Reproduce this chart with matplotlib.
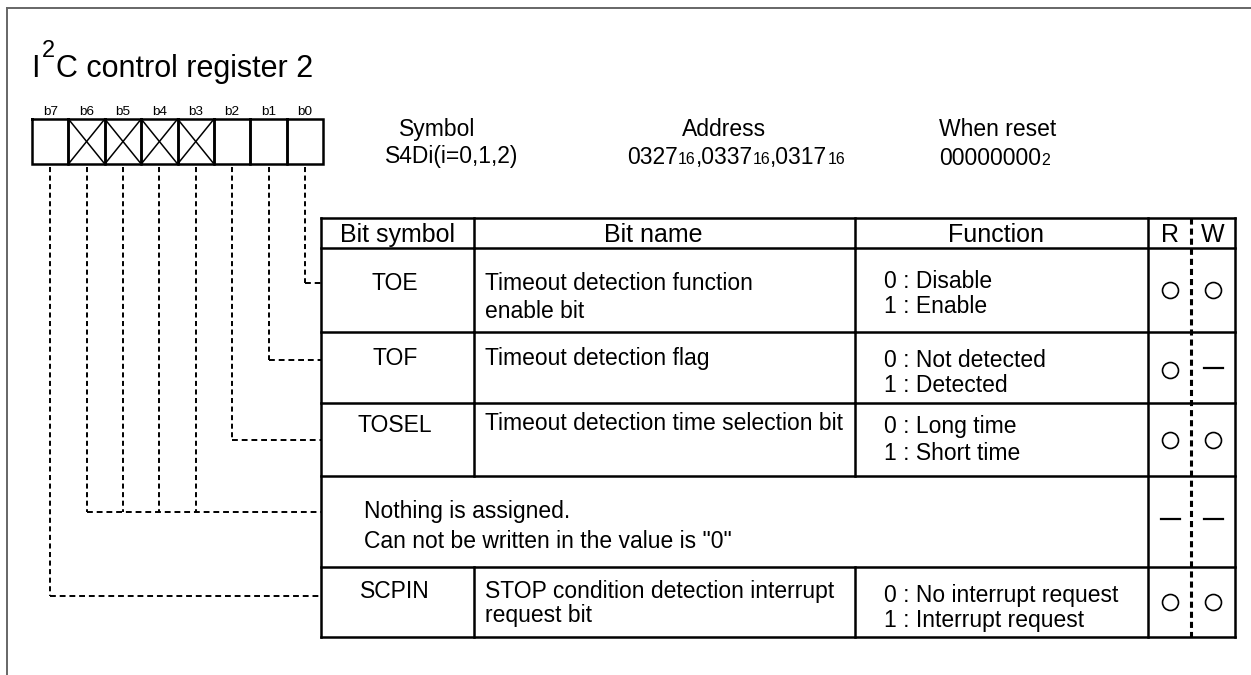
import matplotlib
matplotlib.use("Agg")
import matplotlib.pyplot as plt

plt.rcParams['font.family'] = ['Liberation Sans', 'DejaVu Sans']

# register content
title_main = "C control register 2"
bit_labels = ["b7", "b6", "b5", "b4", "b3", "b2", "b1", "b0"]
unused_bits = ["b6", "b5", "b4", "b3"]
symbol_head = "Symbol"
symbol_text = "S4Di(i=0,1,2)"
address_head = "Address"
address_parts = ["0327", "16", ",0337", "16", ",0317", "16"]
reset_head = "When reset"
reset_parts = ["00000000", "2"]

headers = ["Bit symbol", "Bit name", "Function", "R", "W"]
row_bits = [["b0"], ["b1"], ["b2"], ["b6", "b5", "b4", "b3"], ["b7"]]
row_symbols = ["TOE", "TOF", "TOSEL", "", "SCPIN"]
row_names = [["Timeout detection function", "enable bit"],
             ["Timeout detection flag"],
             ["Timeout detection time selection bit"],
             ["Nothing is assigned.", 'Can not be written in the value is "0"'],
             ["STOP condition detection interrupt", "request bit"]]
row_funcs = [["0 : Disable", "1 : Enable"],
             ["0 : Not detected", "1 : Detected"],
             ["0 : Long time", "1 : Short time"],
             [],
             ["0 : No interrupt request", "1 : Interrupt request"]]
row_read = ["o", "o", "o", "-", "o"]
row_write = ["o", "-", "o", "-", "o"]

# layout (pixels)
W, H = 1251, 675
fig = plt.figure(figsize=(W / 100, H / 100), dpi=100)
ax = fig.add_axes([0, 0, 1, 1])
ax.set_xlim(0, W)
ax.set_ylim(H, 0)
ax.axis("off")
r = fig.canvas.get_renderer()

BODY = 16.5
lw_tab = 1.8

# frame (top and left)
ax.plot([7, W], [8, 8], color="#666666", lw=1.4)
ax.plot([7, 7], [8, H], color="#666666", lw=1.4)

# title with superscript
t = ax.text(31, 77, "I", fontsize=22, va="baseline")
x = t.get_window_extent(r).x1 + 2
t = ax.text(x, 57, "2", fontsize=17, va="baseline")
x = t.get_window_extent(r).x1 + 1
ax.text(x, 77, title_main, fontsize=22, va="baseline")

# register boxes
bx0, bw, by0, by1 = 32, 36.4, 119, 164
bit_x = {}
for i, b in enumerate(bit_labels):
    x0 = bx0 + i * bw
    bit_x[b] = x0 + bw / 2
    ax.plot([x0, x0 + bw, x0 + bw, x0, x0], [by0, by0, by1, by1, by0],
            color="black", lw=lw_tab, solid_joinstyle="miter")
    ax.text(x0 + bw / 2, 115, b, fontsize=9.7, ha="center", va="baseline")
    if b in unused_bits:
        ax.plot([x0, x0 + bw], [by0, by1], color="black", lw=1.1)
        ax.plot([x0, x0 + bw], [by1, by0], color="black", lw=1.1)


def seq_text(x, y, parts, sizes):
    for s, sz in zip(parts, sizes):
        tt = ax.text(x, y, s, fontsize=sz, va="baseline")
        x = tt.get_window_extent(r).x1


# symbol / address / reset
ax.text(437, 136, symbol_head, fontsize=BODY, ha="center", va="baseline")
ax.text(385, 163, symbol_text, fontsize=BODY, va="baseline")
ax.text(724, 136, address_head, fontsize=BODY, ha="center", va="baseline")
seq_text(627, 164, address_parts, [BODY, 11.5] * 3)
ax.text(939, 136, reset_head, fontsize=BODY, va="baseline")
seq_text(939, 165, reset_parts, [BODY, 11.5])

# table
col_x = [321, 474, 855, 1148, 1235]
rw_x = 1191
row_y = [218, 248, 332, 403, 476, 567, 637]
tab_kw = dict(color="black", lw=lw_tab, solid_capstyle="projecting")
for y in row_y:
    ax.plot([col_x[0], col_x[-1]], [y, y], **tab_kw)
for j, xc in enumerate(col_x):
    ax.plot([xc, xc], [row_y[0], row_y[-1]], **tab_kw) if j in (0, 3, 4) else None
for i in range(len(row_y) - 1):
    if i == 4:
        continue
    for xc in col_x[1:3]:
        ax.plot([xc, xc], [row_y[i], row_y[i + 1]], **tab_kw)
ax.plot([rw_x, rw_x], [row_y[0], row_y[-1]], color="black", lw=2.2,
        dashes=(2.0, 1.3))

# header
hy = 242
ax.text(398, hy, headers[0], fontsize=18, ha="center", va="baseline")
ax.text(653, hy, headers[1], fontsize=18, ha="center", va="baseline")
ax.text(996, hy, headers[2], fontsize=18, ha="center", va="baseline")
ax.text(1170, hy, headers[3], fontsize=18, ha="center", va="baseline")
ax.text(1213, hy, headers[4], fontsize=18, ha="center", va="baseline")

# rows
sym_base = [290, 365, 432, 518, 598]
name_base = [[290, 318], [365], [430], [518, 548], [598, 622]]
func_base = [[288, 313], [367, 392], [433, 460], [], [602, 627]]
mark_y = [290, 370, 440, 521, 602]
leader_y = [283, 360, 440, 512, 596]
for i in range(5):
    if row_symbols[i]:
        ax.text(395, sym_base[i], row_symbols[i], fontsize=BODY, ha="center",
                va="baseline")
        nx = 485
    else:
        nx = 364
    for s, yb in zip(row_names[i], name_base[i]):
        ax.text(nx, yb, s, fontsize=BODY, va="baseline")
    for s, yb in zip(row_funcs[i], func_base[i]):
        ax.text(884, yb, s, fontsize=BODY, va="baseline")
    for val, mx in ((row_read[i], 1170), (row_write[i], 1213)):
        if val == "o":
            ax.plot([mx], [mark_y[i]], marker="o", ms=11.5, mfc="none",
                    mec="black", mew=1.2)
        else:
            ax.plot([mx - 9.5, mx + 9.5], [mark_y[i] - 2, mark_y[i] - 2],
                    color="black", lw=1.6)

    # dashed leaders from bits to table
    ly = leader_y[i]
    xs = [bit_x[b] for b in row_bits[i]]
    for bxx in xs:
        ax.plot([bxx, bxx], [by1 + 3, ly], color="black", lw=1.4,
                dashes=(2.6, 1.8))
    ax.plot([min(xs), col_x[0]], [ly, ly], color="black", lw=1.4,
            dashes=(3, 2))

fig.savefig("out.png", dpi=100)
